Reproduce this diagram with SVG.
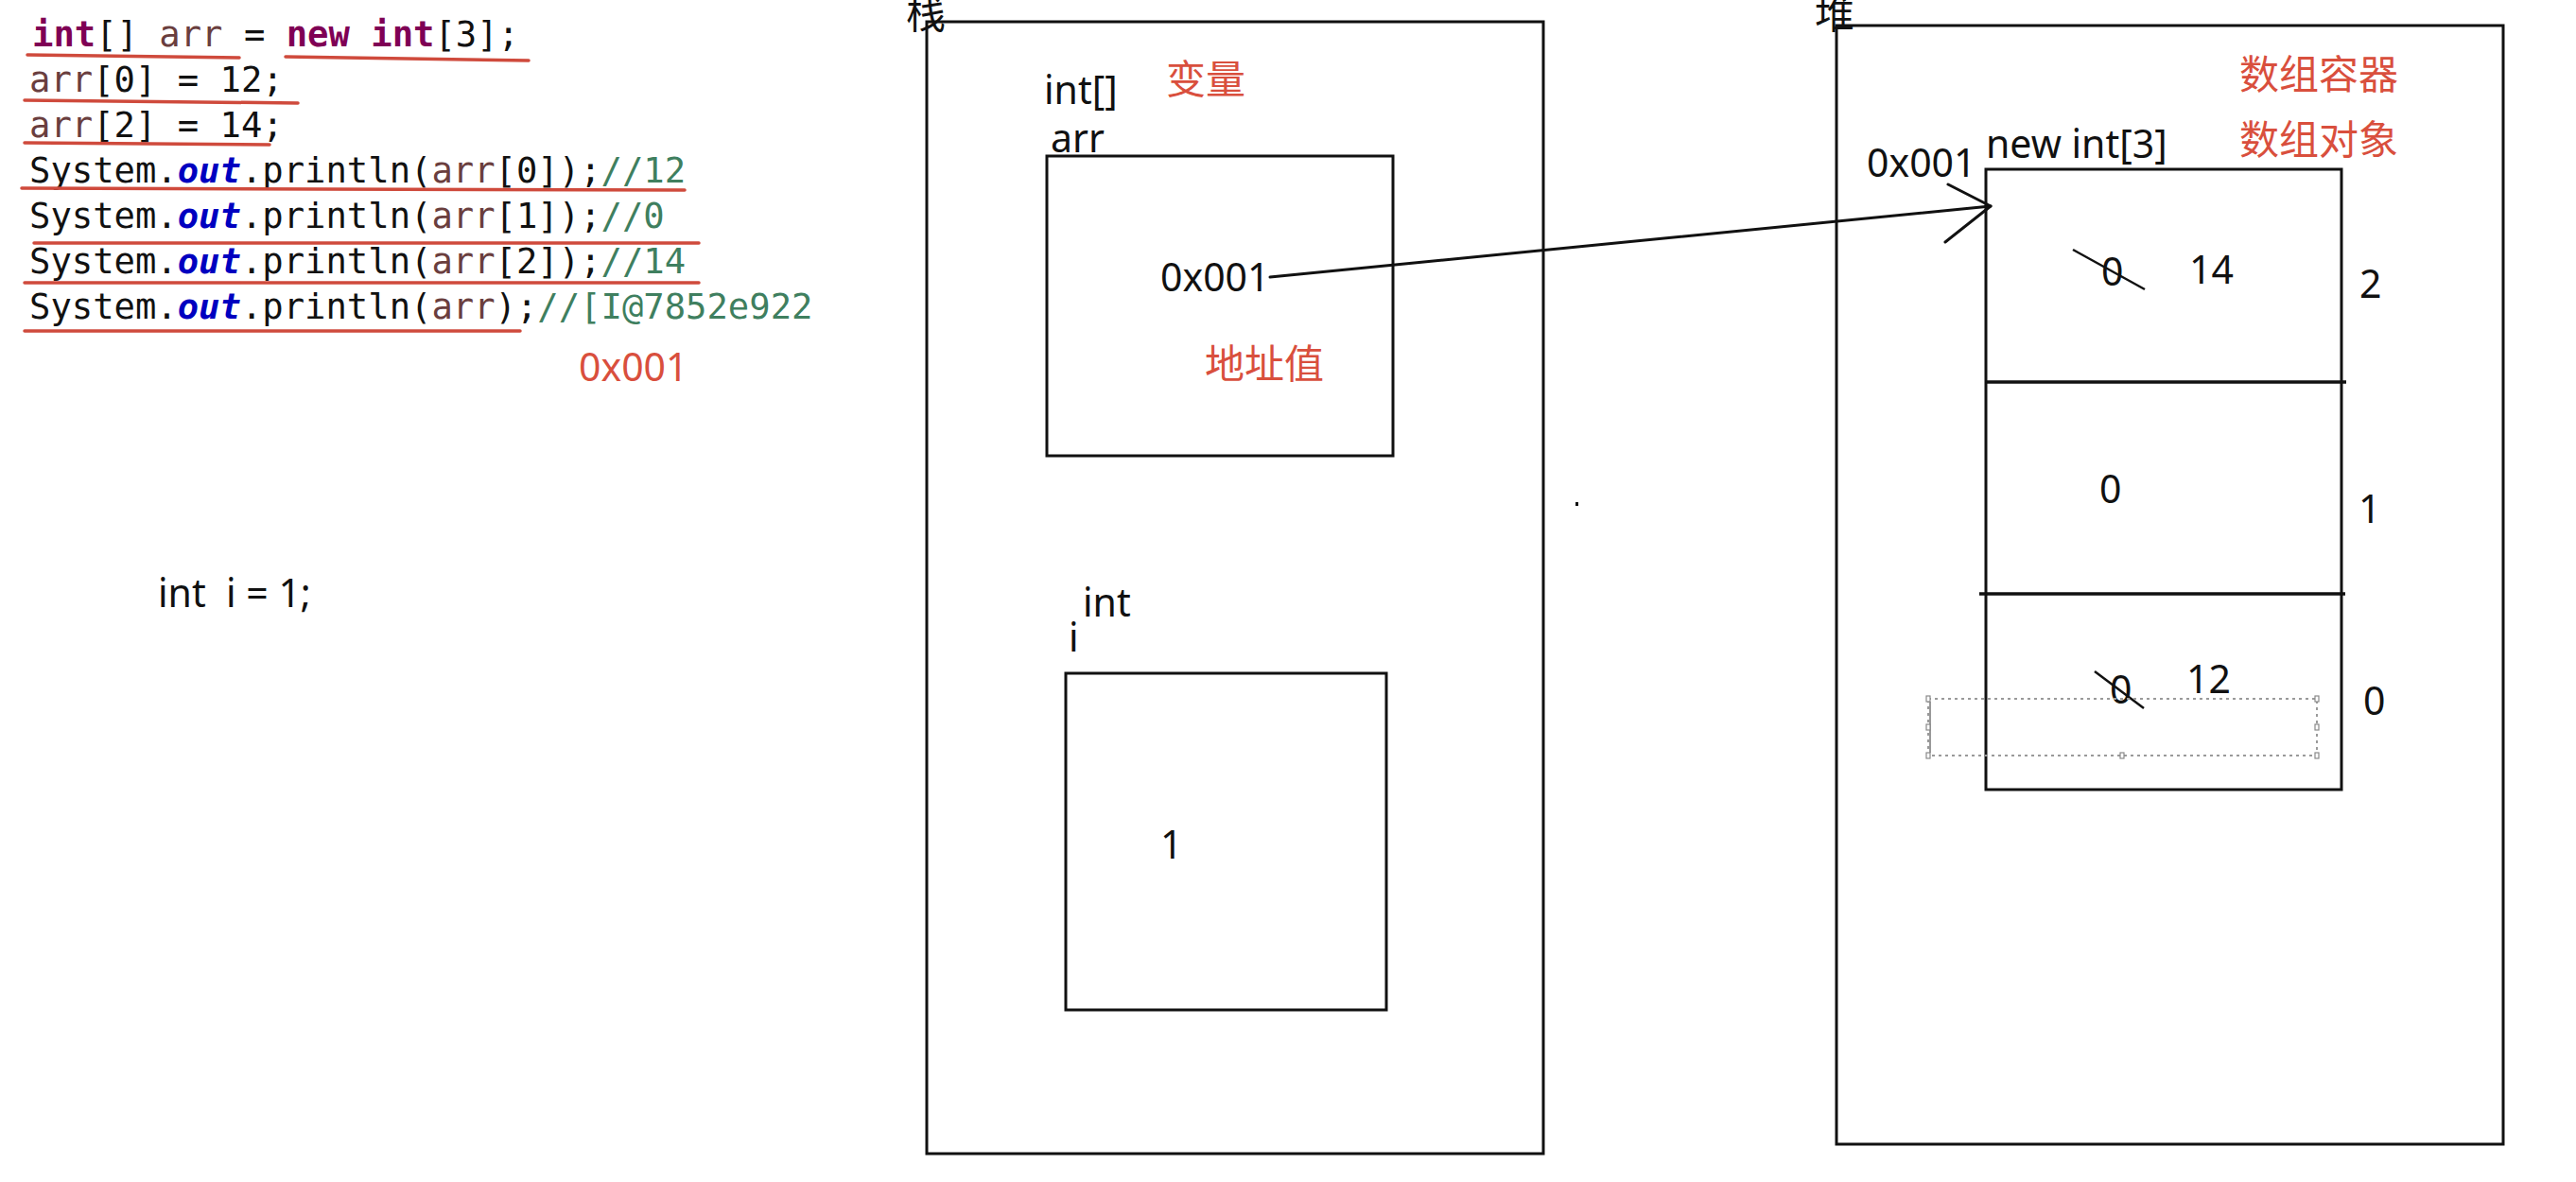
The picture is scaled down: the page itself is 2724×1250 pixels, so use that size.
<svg xmlns="http://www.w3.org/2000/svg" width="2724" height="1250" viewBox="0 0 2724 1250">
<style>
.code{font-family:"DejaVu Sans Mono","Liberation Mono",monospace;font-size:37.2px;fill:#111;white-space:pre}
.kw{fill:#7F0055;font-weight:bold}
.var{fill:#6A3E3E}
.fld{fill:#0000C0;font-weight:bold;font-style:italic}
.cmt{fill:#3F7F5F}
.ul{stroke:#CF4A3C;stroke-width:3.5;fill:none;stroke-linecap:round}
.t{font-family:"Noto Sans","Open Sans",sans-serif;font-size:41px;fill:#111}
.cn{font-family:"Noto Sans CJK SC","Noto Sans",sans-serif;font-size:42px}
.red{fill:#D94F3D}
.box{fill:none;stroke:#111;stroke-width:3}
.div{stroke:#111;stroke-width:3.5}
.edge{stroke:#111;stroke-width:3;fill:none;stroke-linecap:round;stroke-linejoin:round}
.strike{stroke:#111;stroke-width:2.5}
.sel{fill:none;stroke:#9a9a9a;stroke-width:2;stroke-dasharray:3 4}
.handle{fill:#fff;stroke:#8a8a8a;stroke-width:1.2}
</style>
<rect width="2724" height="1250" fill="#fff"/>

<g id="code">
<text class="code" x="34" y="49" xml:space="preserve"><tspan class="kw">int</tspan>[] <tspan class="var">arr</tspan> = <tspan class="kw">new</tspan> <tspan class="kw">int</tspan>[3];</text>
<text class="code" x="31" y="97" xml:space="preserve"><tspan class="var">arr</tspan>[0] = 12;</text>
<text class="code" x="31" y="145" xml:space="preserve"><tspan class="var">arr</tspan>[2] = 14;</text>
<text class="code" x="31" y="193">System.<tspan class="fld">out</tspan>.println(<tspan class="var">arr</tspan>[0]);<tspan class="cmt">//12</tspan></text>
<text class="code" x="31" y="241">System.<tspan class="fld">out</tspan>.println(<tspan class="var">arr</tspan>[1]);<tspan class="cmt">//0</tspan></text>
<text class="code" x="31" y="289">System.<tspan class="fld">out</tspan>.println(<tspan class="var">arr</tspan>[2]);<tspan class="cmt">//14</tspan></text>
<text class="code" x="31" y="337">System.<tspan class="fld">out</tspan>.println(<tspan class="var">arr</tspan>);<tspan class="cmt">//[I@7852e922</tspan></text>
<path class="ul" d="M29 58 L253 61"/>
<path class="ul" d="M302 60 L559 64"/>
<path class="ul" d="M26 106 L315 109"/>
<path class="ul" d="M26 151 L285 153"/>
<path class="ul" d="M23 199 L724 201"/>
<path class="ul" d="M36 257 L739 257"/>
<path class="ul" d="M26 299 L739 299"/>
<path class="ul" d="M26 350 L550 350"/>
<text class="t red" x="612" y="403" font-size="40">0x001</text>
<text class="t" x="167" y="642" font-size="42" style="white-space:pre" xml:space="preserve">int  i = 1;</text>
</g>

<g id="stack">
<rect class="box" x="980" y="23" width="652" height="1197"/>
<text class="cn" x="958" y="30" font-size="44" fill="#111">栈</text>
</g>

<g id="var-arr">
<rect class="box" x="1107" y="165" width="366" height="317"/>
<text class="t" x="1104" y="110">int[]</text>
<text class="t" x="1111" y="161">arr</text>
<text class="cn red" x="1233" y="99">变量</text>
<text class="t" x="1227" y="308" font-size="40">0x001</text>
<text class="cn red" x="1274" y="400">地址值</text>
</g>

<g id="var-i">
<rect class="box" x="1127" y="712" width="339" height="356"/>
<text class="t" x="1145" y="652">int</text>
<text class="t" x="1130" y="689">i</text>
<text class="t" x="1227" y="908" font-size="40">1</text>
</g>

<rect x="1666" y="531" width="3" height="4" fill="#111"/>

<g id="heap">
<rect class="box" x="1942" y="27" width="705" height="1183"/>
<text class="cn" x="1919" y="30" font-size="44" fill="#111">堆</text>
<text class="cn red" x="2368" y="94">数组容器</text>
<text class="cn red" x="2368" y="163">数组对象</text>
</g>

<g id="array">
<rect class="box" x="2100" y="179" width="376" height="656"/>
<line class="div" x1="2100" y1="404" x2="2481" y2="404"/>
<line class="div" x1="2093" y1="628" x2="2480" y2="628"/>
<text class="t" x="2100" y="167">new int[3]</text>
<text class="t" x="1974" y="187" font-size="40">0x001</text>
<text class="t" x="2222" y="302" font-size="40">0</text>
<line class="strike" x1="2192" y1="264" x2="2268" y2="306"/>
<text class="t" x="2315" y="300" font-size="40">14</text>
<text class="t" x="2495" y="315" font-size="40">2</text>
<text class="t" x="2220" y="532" font-size="40">0</text>
<text class="t" x="2494" y="553" font-size="40">1</text>
<text class="t" x="2231" y="744" font-size="40">0</text>
<line class="strike" x1="2215" y1="710" x2="2267" y2="749"/>
<text class="t" x="2312" y="733" font-size="40">12</text>
<text class="t" x="2499" y="756" font-size="40">0</text>
<rect class="sel" x="2039" y="739" width="411" height="60"/>
<line x1="2041" y1="742" x2="2041" y2="796" stroke="#777" stroke-width="1.5"/>
<rect class="handle" x="2037" y="736" width="4" height="6"/>
<rect class="handle" x="2448" y="736" width="4" height="6"/>
<rect class="handle" x="2037" y="766" width="4" height="6"/>
<rect class="handle" x="2448" y="766" width="4" height="6"/>
<rect class="handle" x="2037" y="796" width="4" height="6"/>
<rect class="handle" x="2242" y="796" width="4" height="6"/>
<rect class="handle" x="2448" y="796" width="4" height="6"/>
</g>

<g id="connectors">
<line class="edge" x1="1343" y1="293" x2="2105" y2="218"/>
<polyline class="edge" points="2060,195 2105,218 2057,256"/>
</g>
</svg>
